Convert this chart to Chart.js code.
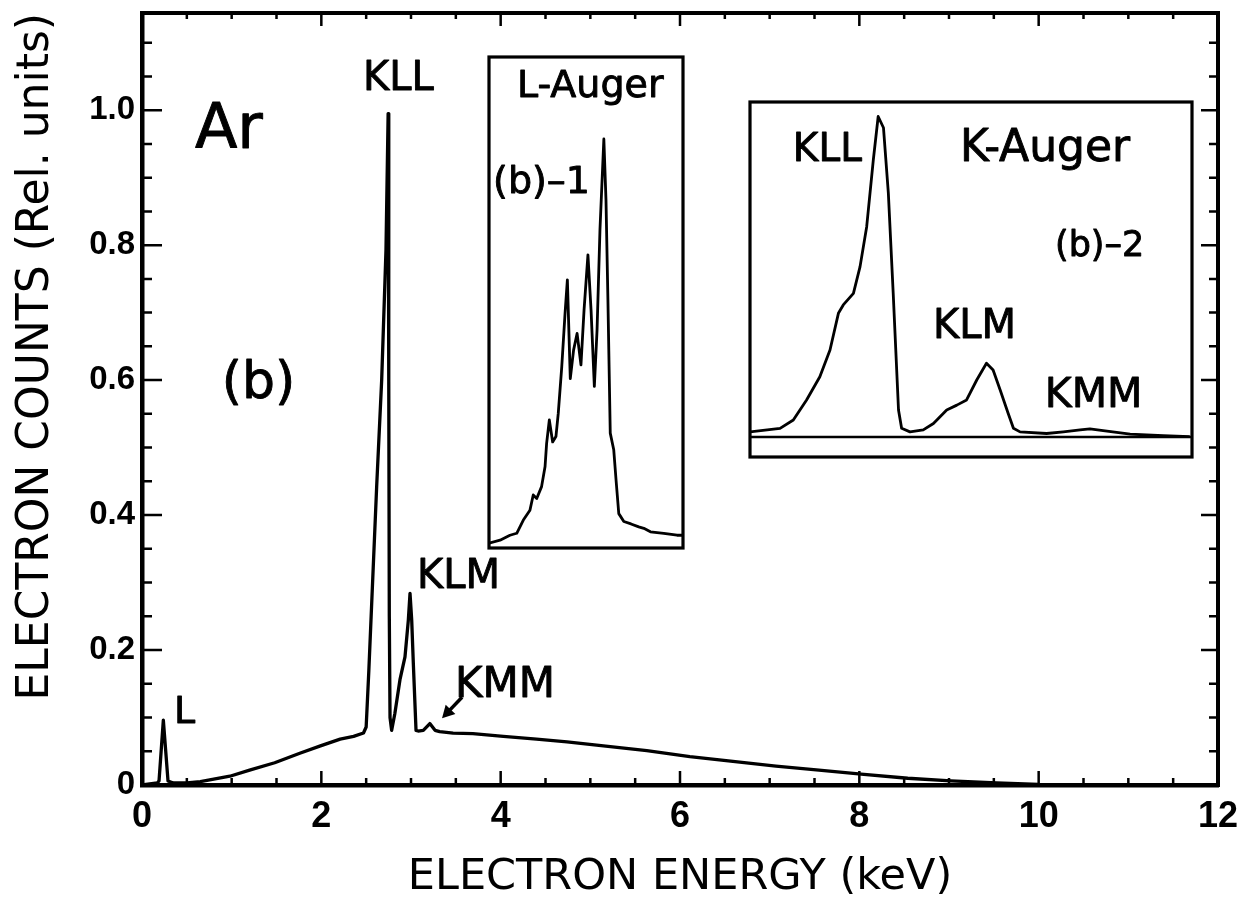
<!DOCTYPE html>
<html>
<head>
<meta charset="utf-8">
<script src="https://cdn.jsdelivr.net/npm/chart.js@4.4.1/dist/chart.umd.min.js"></script>
<style>
html,body{margin:0;padding:0;background:#fff;}
#wrap{position:relative;width:1251px;height:917px;overflow:hidden;background:#fff;}
canvas{position:absolute;}
</style>
</head>
<body>
<div id="wrap">
<canvas id="main" width="1251" height="917" style="left:0;top:0"></canvas>
<canvas id="inL"></canvas>
<canvas id="inK"></canvas>
</div>
<script>
// ---------------- DATA ----------------
// Main Ar electron spectrum (b)
const energyKeV = [0.00,0.17,0.19,0.238,0.29,0.35,0.50,0.65,0.98,1.20,1.48,1.76,1.99,2.21,2.36,2.47,2.50,2.53,2.617,2.673,2.721,2.745,2.752,2.758,2.766,2.784,2.82,2.877,2.933,2.970,2.989,3.008,3.026,3.056,3.08,3.137,3.21,3.268,3.32,3.47,3.69,4.03,4.40,4.74,5.07,5.63,6.11,6.59,7.07,7.55,8.02,8.54,9.02,9.53,10.0,11.0,12.0];
const electronCounts = [0.000,0.003,0.006,0.096,0.006,0.003,0.003,0.005,0.013,0.022,0.033,0.047,0.058,0.068,0.072,0.077,0.086,0.170,0.442,0.600,0.793,0.995,0.600,0.250,0.100,0.081,0.106,0.156,0.190,0.244,0.284,0.244,0.180,0.081,0.080,0.081,0.091,0.081,0.079,0.077,0.076,0.072,0.068,0.064,0.059,0.051,0.042,0.035,0.028,0.022,0.016,0.010,0.006,0.003,0.001,0.000,0.000];

// Inset (b)-1 : L-Auger (relative units)
const lAugerX = [0.000,0.057,0.108,0.143,0.177,0.211,0.228,0.246,0.271,0.289,0.297,0.311,0.328,0.345,0.357,0.375,0.392,0.404,0.419,0.436,0.454,0.474,0.490,0.510,0.526,0.543,0.557,0.572,0.592,0.603,0.613,0.625,0.643,0.655,0.669,0.695,0.732,0.772,0.798,0.832,0.901,0.969,1.000];
const lAugerY = [0.010,0.016,0.026,0.030,0.057,0.077,0.108,0.101,0.125,0.166,0.213,0.261,0.216,0.227,0.274,0.369,0.478,0.546,0.345,0.403,0.437,0.373,0.485,0.597,0.485,0.329,0.444,0.648,0.833,0.709,0.505,0.234,0.200,0.138,0.070,0.054,0.049,0.043,0.040,0.033,0.030,0.026,0.026];

// Inset (b)-2 : K-Auger (relative units)
const kAugerX = [0.000,0.068,0.098,0.128,0.158,0.181,0.200,0.211,0.234,0.249,0.264,0.279,0.290,0.302,0.313,0.324,0.336,0.343,0.362,0.392,0.415,0.445,0.468,0.490,0.513,0.535,0.550,0.566,0.584,0.596,0.611,0.671,0.709,0.747,0.769,0.799,0.860,0.935,0.995];
const kAugerY = [0.016,0.027,0.053,0.115,0.187,0.270,0.384,0.410,0.446,0.529,0.653,0.860,0.995,0.960,0.757,0.446,0.084,0.027,0.016,0.022,0.042,0.084,0.099,0.115,0.177,0.229,0.208,0.146,0.074,0.027,0.016,0.011,0.016,0.022,0.025,0.020,0.009,0.004,0.001];
const kBaselineX = [0, 1];
const kBaselineY = [0, 0];

// Axis ticks
const xTickLabels = [0,2,4,6,8,10,12];
const yTickLabels = [0,0.2,0.4,0.6,0.8,1.0];
const xMinorTicks = [0.5,1,1.5,2,2.5,3,3.5,4,4.5,5,5.5,6,6.5,7,7.5,8,8.5,9,9.5,10,10.5,11,11.5];
const yMinorTicks = [0.05,0.1,0.15,0.2,0.25,0.3,0.35,0.4,0.45,0.5,0.55,0.6,0.65,0.7,0.75,0.8,0.85,0.9,0.95,1.0,1.05,1.1];

// Text annotations (anchored in data coordinates of each panel)
const mainLabels = [
  {text:'Ar',  x:0.59, y:0.944, size:62},
  {text:'KLL', x:2.465, y:1.030, size:40},
  {text:'(b)', x:0.89, y:0.573, size:52},
  {text:'L',   x:0.357, y:0.092, size:38},
  {text:'KLM', x:3.067, y:0.292, size:40},
  {text:'KMM', x:3.491, y:0.130, size:42}
];
const lAugerLabels = [
  {text:'L-Auger', x:0.144, y:0.919, size:38},
  {text:'(b)\u20131', x:0.021, y:0.723, size:38}
];
const kAugerLabels = [
  {text:'KLL', x:0.097, y:0.857, size:39},
  {text:'K-Auger', x:0.475, y:0.857, size:44},
  {text:'(b)\u20132', x:0.690, y:0.562, size:35},
  {text:'KLM', x:0.414, y:0.307, size:40},
  {text:'KMM', x:0.667, y:0.093, size:41}
];
const kmmArrow = {fromX:3.569, fromY:0.130, toX:3.346, toY:0.099};

// ---------------- RENDER ----------------
const FONT = '"DejaVu Sans", "Noto Sans", sans-serif';
const TICKFONT = '"Liberation Sans", Arial, sans-serif';
const toPts = (xs, ys) => xs.map((x, i) => ({x, y: ys[i]}));

function drawLabels(chart, labels) {
  const ctx = chart.ctx, xs = chart.scales.x, ys = chart.scales.y;
  ctx.save();
  ctx.fillStyle = '#000';
  ctx.strokeStyle = '#000';
  ctx.lineWidth = 0.9;
  ctx.lineJoin = 'round';
  ctx.textAlign = 'left';
  ctx.textBaseline = 'alphabetic';
  labels.forEach(l => {
    ctx.font = `${l.size}px ${FONT}`;
    const px = xs.getPixelForValue(l.x), py = ys.getPixelForValue(l.y);
    ctx.fillText(l.text, px, py);
    ctx.strokeText(l.text, px, py);
  });
  ctx.restore();
}

const mainDecor = {
  id: 'mainDecor',
  afterDatasetsDraw(chart) {
    const ctx = chart.ctx, ca = chart.chartArea, xs = chart.scales.x, ys = chart.scales.y;
    ctx.save();
    ctx.strokeStyle = '#000';
    ctx.lineCap = 'butt';
    // top & right frame
    ctx.lineWidth = 4;
    ctx.beginPath();
    ctx.moveTo(ca.left - 2, ca.top); ctx.lineTo(ca.right, ca.top); ctx.lineTo(ca.right, ca.bottom + 2);
    ctx.stroke();
    // inward ticks
    ctx.lineWidth = 2.5;
    ctx.beginPath();
    xMinorTicks.forEach(v => {
      const px = xs.getPixelForValue(v);
      const major = xTickLabels.includes(v);
      ctx.moveTo(px, ca.bottom); ctx.lineTo(px, ca.bottom - (major ? 14 : 7));
      ctx.moveTo(px, ca.top); ctx.lineTo(px, ca.top + (major ? 13 : 6));
    });
    yMinorTicks.forEach(v => {
      const py = ys.getPixelForValue(v);
      const major = yTickLabels.some(t => Math.abs(t - v) < 1e-9);
      ctx.moveTo(ca.left, py); ctx.lineTo(ca.left + (major ? 20 : 10), py);
      ctx.moveTo(ca.right, py); ctx.lineTo(ca.right - (major ? 17 : 9), py);
    });
    ctx.stroke();
    // KMM arrow
    const x1 = xs.getPixelForValue(kmmArrow.fromX), y1 = ys.getPixelForValue(kmmArrow.fromY);
    const x2 = xs.getPixelForValue(kmmArrow.toX), y2 = ys.getPixelForValue(kmmArrow.toY);
    const ang = Math.atan2(y2 - y1, x2 - x1);
    ctx.lineWidth = 3.5;
    ctx.beginPath(); ctx.moveTo(x1, y1); ctx.lineTo(x2 - 6 * Math.cos(ang), y2 - 6 * Math.sin(ang)); ctx.stroke();
    ctx.fillStyle = '#000';
    ctx.beginPath();
    ctx.moveTo(x2, y2);
    ctx.lineTo(x2 - 14 * Math.cos(ang - 0.5), y2 - 14 * Math.sin(ang - 0.5));
    ctx.lineTo(x2 - 14 * Math.cos(ang + 0.5), y2 - 14 * Math.sin(ang + 0.5));
    ctx.closePath(); ctx.fill();
    ctx.restore();
    drawLabels(chart, mainLabels);
  }
};

new Chart(document.getElementById('main'), {
  type: 'line',
  data: {
    datasets: [{
      data: toPts(energyKeV, electronCounts),
      borderColor: '#000', borderWidth: 3.3, pointRadius: 0, tension: 0,
      borderJoinStyle: 'round', fill: false
    }]
  },
  options: {
    responsive: false, animation: false, devicePixelRatio: 1, events: [],
    layout: {padding: {left: 0, right: 33, top: 13, bottom: 0}},
    plugins: {legend: {display: false}, tooltip: {enabled: false}},
    scales: {
      x: {
        type: 'linear', min: 0, max: 12,
        afterBuildTicks: s => { s.ticks = xTickLabels.map(v => ({value: v})); },
        afterFit: s => { s.height = 132; s.paddingLeft = 0; s.paddingRight = 0; },
        grid: {display: false, drawTicks: false},
        border: {display: true, width: 4.5, color: '#000'},
        ticks: {color: '#000', padding: 10, maxRotation: 0, autoSkip: false,
                font: {family: TICKFONT, size: 36, weight: 'bold'},
                callback: v => String(v)},
        title: {display: true, text: 'ELECTRON ENERGY (keV)', color: '#000',
                font: {family: FONT, size: 43}, padding: {top: 0, bottom: 13}}
      },
      y: {
        type: 'linear', min: 0, max: 1.144,
        afterBuildTicks: s => { s.ticks = yTickLabels.map(v => ({value: v})); },
        afterFit: s => { s.width = 142; s.paddingTop = 0; s.paddingBottom = 0; },
        grid: {display: false, drawTicks: false},
        border: {display: true, width: 4.5, color: '#000'},
        ticks: {color: '#000', padding: 7, autoSkip: false,
                font: {family: TICKFONT, size: 33, weight: 'bold'},
                callback: v => (v === 0 ? '0' : Number(v).toFixed(1))},
        title: {display: true, text: 'ELECTRON COUNTS (Rel. units)', color: '#000', align: 'end',
                font: {family: FONT, size: 44}, padding: {top: 10, bottom: 0}}
      }
    }
  },
  plugins: [mainDecor]
});

function makeInset(id, box, pad, xsArr, ysArr, yMin, yMax, labels, extraSets) {
  const cv = document.getElementById(id);
  cv.width = box.w + 2 * pad; cv.height = box.h + 2 * pad;
  cv.style.left = (box.l - pad) + 'px'; cv.style.top = (box.t - pad) + 'px';
  const frame = {
    id: 'frame_' + id,
    afterDatasetsDraw(chart) {
      const ctx = chart.ctx, ca = chart.chartArea;
      ctx.save();
      ctx.strokeStyle = '#000'; ctx.lineWidth = 3.2;
      ctx.strokeRect(ca.left, ca.top, ca.right - ca.left, ca.bottom - ca.top);
      ctx.restore();
      drawLabels(chart, labels);
    }
  };
  const sets = [{data: toPts(xsArr, ysArr), borderColor: '#000', borderWidth: 2.8,
                 pointRadius: 0, tension: 0, borderJoinStyle: 'round', fill: false}];
  (extraSets || []).forEach(s => sets.push(s));
  new Chart(cv, {
    type: 'line',
    data: {datasets: sets},
    options: {
      responsive: false, animation: false, devicePixelRatio: 1, events: [],
      layout: {padding: pad},
      plugins: {legend: {display: false}, tooltip: {enabled: false}},
      scales: {
        x: {type: 'linear', min: 0, max: 1, display: false},
        y: {type: 'linear', min: yMin, max: yMax, display: false}
      }
    },
    plugins: [frame]
  });
}

makeInset('inL', {l: 489, t: 57, w: 194, h: 491}, 5, lAugerX, lAugerY, 0, 1, lAugerLabels);
makeInset('inK', {l: 750, t: 102, w: 442, h: 355}, 5, kAugerX, kAugerY, -0.062, 1.04, kAugerLabels,
  [{data: toPts(kBaselineX, kBaselineY), borderColor: '#000', borderWidth: 2.6, pointRadius: 0, fill: false}]);
</script>
</body>
</html>
